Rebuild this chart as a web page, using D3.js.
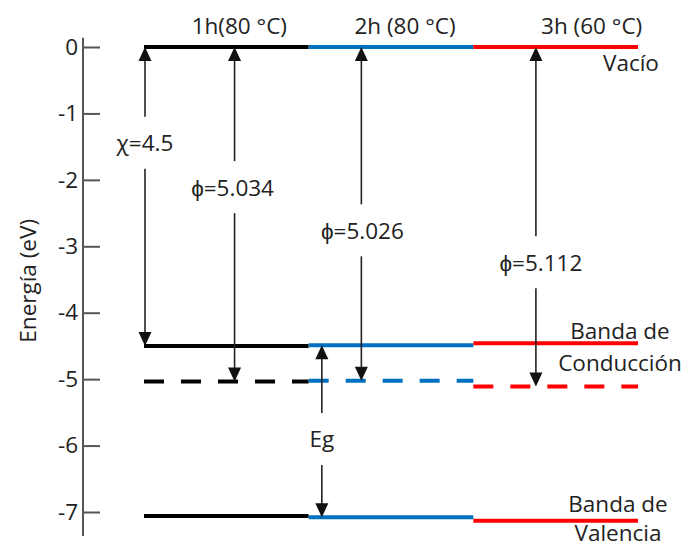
<!DOCTYPE html>
<html>
<head>
<meta charset="utf-8">
<script src="https://cdn.jsdelivr.net/npm/d3@7"></script>
<style>
  body { margin: 0; background: #fff; }
  svg { display: block; }
  text { font-family: "Open Sans", sans-serif; fill: #222; }
</style>
</head>
<body>
<svg id="chart" width="690" height="548"></svg>
<script>
// Band alignment for three annealing conditions (energies in eV, vacuum = 0)
const samples = ["1h(80 °C)", "2h (80 °C)", "3h (60 °C)"];
const vacuumLevel = [0, 0, 0];
const conductionBand = [-4.5, -4.49, -4.46];
const fermiLevel = [-5.034, -5.026, -5.112];
const valenceBand = [-7.06, -7.08, -7.13];
const electronAffinity = 4.5;
const yTicks = [0, -1, -2, -3, -4, -5, -6, -7];

const sampleColors = ["#000000", "#0070C0", "#FF0000"];

const svg = d3.select("#chart");
const fontSize = 22.5;

const x = d3.scaleBand().domain(samples).range([144, 638]).padding(0);
const y = d3.scaleLinear().domain([0, -7]).range([47, 512]);
const bw = x.bandwidth();

// Energy axis
const axisX = 83;
const axisG = svg.append("g").attr("transform", `translate(${axisX},0)`)
  .call(d3.axisLeft(y).tickValues(yTicks).tickSizeInner(-17).tickSizeOuter(0)
    .tickPadding(5).tickFormat(d => String(d)));
axisG.select(".domain").remove();
axisG.selectAll(".tick line").attr("stroke", "#555").attr("stroke-width", 2);
axisG.selectAll(".tick text").attr("font-size", fontSize).attr("fill", "#222")
  .style("font-family", "'Open Sans', sans-serif");
axisG.append("line").attr("x1", 0).attr("x2", 0)
  .attr("y1", y(0.14)).attr("y2", y(-7.36))
  .attr("stroke", "#555").attr("stroke-width", 2);

svg.append("text")
  .attr("transform", `translate(27,${y(-3.52)}) rotate(-90)`)
  .attr("text-anchor", "middle").attr("dominant-baseline", "central")
  .attr("font-size", fontSize).text("Energía (eV)");

// Energy levels, one segment per sample
function drawLevel(values, dashed) {
  svg.append("g").selectAll("line").data(samples).join("line")
    .attr("x1", d => x(d)).attr("x2", d => x(d) + bw)
    .attr("y1", (d, i) => y(values[i])).attr("y2", (d, i) => y(values[i]))
    .attr("stroke", (d, i) => sampleColors[i])
    .attr("stroke-width", 4)
    .attr("stroke-dasharray", dashed ? "20,17" : null);
}
drawLevel(vacuumLevel, false);
drawLevel(conductionBand, false);
drawLevel(fermiLevel, true);
drawLevel(valenceBand, false);

// Double-headed arrows with a label in a gap
const arrowG = svg.append("g");
function arrowHead(xp, yp, dir) {
  const w = 6.5, h = 14;
  arrowG.append("path")
    .attr("d", `M${xp},${yp} L${xp - w},${yp + dir * h} L${xp + w},${yp + dir * h} Z`)
    .attr("fill", "#111");
}
function drawArrow(xp, e1, e2, eLabel, label, dx) {
  const y1 = y(e1), y2 = y(e2), yl = y(eLabel), gap = 26;
  arrowG.append("line").attr("x1", xp).attr("x2", xp)
    .attr("y1", y1 + 4).attr("y2", yl - gap)
    .attr("stroke", "#222").attr("stroke-width", 1.6);
  arrowG.append("line").attr("x1", xp).attr("x2", xp)
    .attr("y1", yl + gap).attr("y2", y2 - 4)
    .attr("stroke", "#222").attr("stroke-width", 1.6);
  arrowHead(xp, y1, 1);
  arrowHead(xp, y2, -1);
  arrowG.append("text").attr("x", xp + dx).attr("y", yl)
    .attr("text-anchor", "middle").attr("dominant-baseline", "central")
    .attr("font-size", fontSize).text(label);
}

drawArrow(x(samples[0]) + 1, vacuumLevel[0], -electronAffinity, -1.44,
  "χ=" + electronAffinity, 0);
const phiPos = [0.55, 0.32, 0.38];
const phiLabelE = [-2.11, -2.76, -3.24];
const phiDx = [-2, 1, 5];
samples.forEach((s, i) => {
  const phi = vacuumLevel[i] - fermiLevel[i];
  drawArrow(x(s) + phiPos[i] * bw, vacuumLevel[i], fermiLevel[i], phiLabelE[i],
    "ϕ=" + d3.format(".3f")(phi), phiDx[i]);
});
drawArrow(x(samples[1]) + 0.08 * bw, conductionBand[1], valenceBand[1], -5.9, "Eg", 0);

// Sample headings
const headDx = [13, 14, 36];
svg.append("g").selectAll("text").data(samples).join("text")
  .attr("x", (d, i) => x(d) + bw / 2 + headDx[i]).attr("y", 25)
  .attr("text-anchor", "middle").attr("dominant-baseline", "central")
  .attr("font-size", fontSize).text(d => d);

// Level names
const right = x(samples[2]) + bw;
svg.append("text").attr("x", right - 35).attr("y", y(-0.23))
  .attr("dominant-baseline", "central").attr("font-size", fontSize).text("Vacío");
[["Banda de", -4.27], ["Conducción", -4.75]].forEach(([t, e]) =>
  svg.append("text").attr("x", right - 18).attr("y", y(e))
    .attr("text-anchor", "middle").attr("dominant-baseline", "central")
    .attr("font-size", fontSize).text(t));
[["Banda de", -6.87], ["Valencia", -7.31]].forEach(([t, e]) =>
  svg.append("text").attr("x", right - 20).attr("y", y(e))
    .attr("text-anchor", "middle").attr("dominant-baseline", "central")
    .attr("font-size", fontSize).text(t));
</script>
</body>
</html>
